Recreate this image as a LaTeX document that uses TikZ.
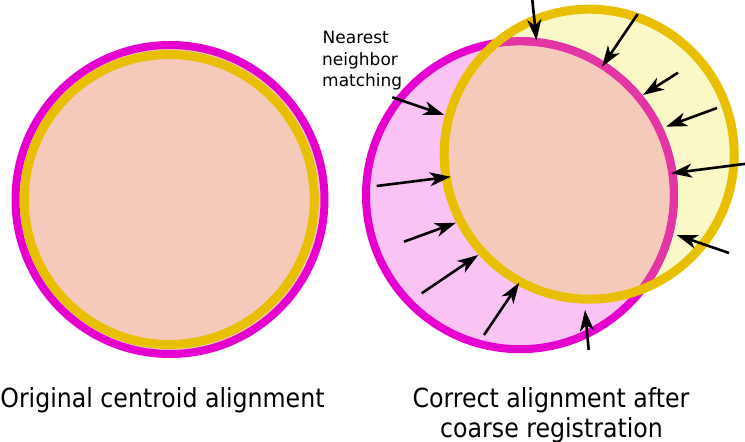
\documentclass[tikz,border=0pt]{standalone}
\usepackage{fontspec}
\setmainfont{DejaVu Sans}
\newfontfamily\condfont{DejaVu Sans Condensed}
\usetikzlibrary{arrows.meta}
\definecolor{mag}{RGB}{230,0,208}
\definecolor{magin}{RGB}{228,53,165}
\definecolor{yel}{RGB}{232,192,0}
\definecolor{paleyel}{RGB}{249,248,198}
\definecolor{pinkfill}{RGB}{249,196,243}
\definecolor{salmon}{RGB}{245,202,187}
\tikzset{
  magring/.style={draw=mag, line width=8pt},
  yelring/.style={draw=yel, line width=9pt},
  nnarrow/.style={line width=2.6pt, -{Stealth[length=21pt,width=14pt,inset=6pt]}},
  caption/.style={font=\condfont\fontsize{26.3}{31}\selectfont, anchor=base, inner sep=0pt},
  smalllbl/.style={font=\fontsize{17}{21.5}\selectfont, anchor=base west, inner sep=0pt}
}
\begin{document}
\begin{tikzpicture}[x=1pt,y=-1pt]
\useasboundingbox (0,0) rectangle (745,442);
% ---------- left: original centroid alignment ----------
\coordinate (lm) at (170,199.5);
\coordinate (ly) at (169.3,199.5);
\fill[salmon] (lm) circle[radius=154.5];
\draw[magring] (lm) circle[radius=154.5];
\draw[yelring] (ly) circle[radius=145];
% ---------- right: after coarse registration ----------
\coordinate (rm) at (520,195.2);
\coordinate (ry) at (589.2,154.2);
\fill[pinkfill] (rm) circle[radius=154];
\fill[paleyel] (ry) circle[radius=145];
\begin{scope}
  \clip (rm) circle[radius=154];
  \fill[salmon] (ry) circle[radius=145];
\end{scope}
\draw[magring] (rm) circle[radius=154];
\begin{scope}
  \clip (ry) circle[radius=145];
  \draw[magring, draw=magin] (rm) circle[radius=154];
\end{scope}
\draw[yelring] (ry) circle[radius=145];
% ---------- arrows ----------
\coordinate (t1) at (532,-3);     \coordinate (h1) at (536.5,40.5);
\coordinate (t2) at (637.7,14);   \coordinate (h2) at (602,66.7);
\coordinate (t3) at (678,72.7);   \coordinate (h3) at (643,95);
\coordinate (t4) at (717,108);    \coordinate (h4) at (666,126.7);
\coordinate (t5) at (748,163.5);  \coordinate (h5) at (671,173.3);
\coordinate (t6) at (729,253);    \coordinate (h6) at (676.7,235);
\coordinate (t7) at (588.7,350);  \coordinate (h7) at (585,310);
\coordinate (t8) at (484,335);    \coordinate (h8) at (519.3,282.7);
\coordinate (t9) at (421.7,293.3);\coordinate (h9) at (478.3,255);
\coordinate (t10) at (404,241.7); \coordinate (h10) at (456,222.7);
\coordinate (t11) at (376.7,186); \coordinate (h11) at (450.7,176.7);
\coordinate (t12) at (392.3,97.3);\coordinate (h12) at (444.3,115);
\foreach \i in {1,...,12} {\draw[nnarrow] (t\i) -- (h\i);}
% ---------- texts ----------
\node[smalllbl] (lblA) at (322.5,43.3) {Nearest};
\node[smalllbl] (lblB) at (322,65) {neighbor};
\node[smalllbl] (lblC) at (322,86.5) {matching};
\node[caption] (capL) at (162.5,407) {Original centroid alignment};
\node[caption] (capR1) at (551,407) {Correct alignment after};
\node[caption] (capR2) at (551.5,437) {coarse registration};
\end{tikzpicture}
\end{document}
